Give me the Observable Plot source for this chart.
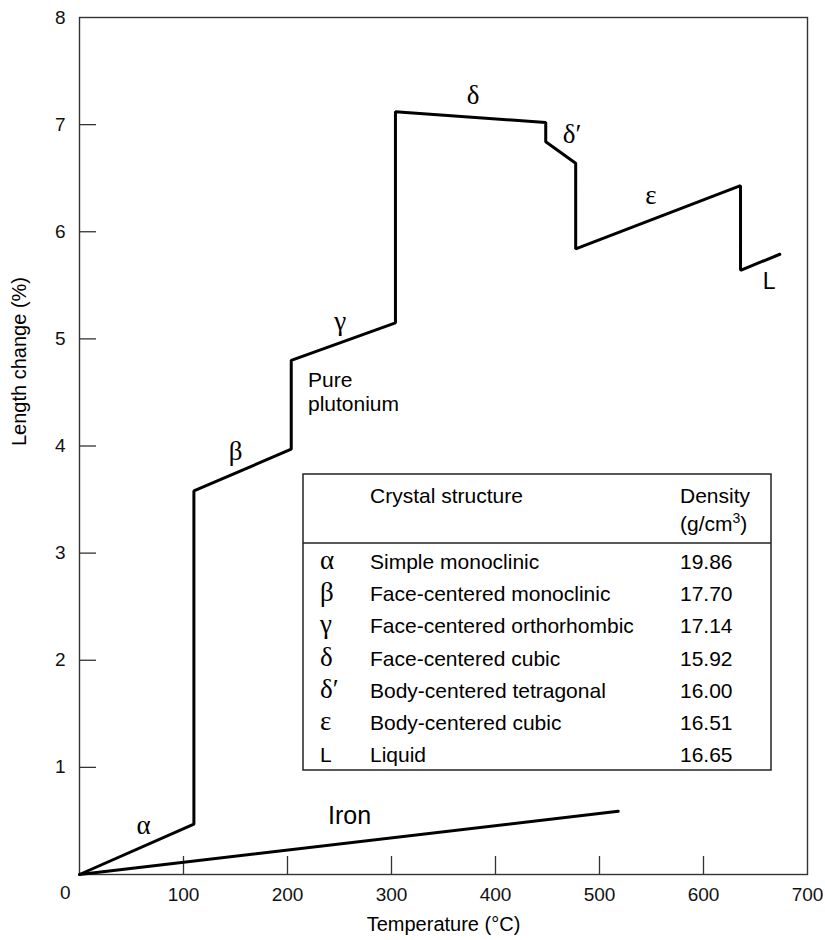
<!DOCTYPE html>
<html><head><meta charset="utf-8">
<script src="https://cdn.jsdelivr.net/npm/d3@7"></script>
<script src="https://cdn.jsdelivr.net/npm/@observablehq/plot@0.6"></script>
<style>
html,body{margin:0;padding:0;background:#fff;}
</style></head><body>
<div id="chart"></div>
<script>
// ---- data ----
const plutoniumT = [0, 110, 110, 203.6, 203.6, 303.8, 303.8, 448.3, 448.3, 477.1, 477.1, 635.6, 635.6, 673.4];
const plutoniumV = [0, 0.47, 3.58, 3.97, 4.80, 5.15, 7.12, 7.02, 6.84, 6.64, 5.84, 6.43, 5.64, 5.79];
const ironT = [0, 518];
const ironV = [0, 0.59];
const phaseLabels = ["α", "β", "γ", "δ", "δ′", "ε"];
const phaseLabelT = [61.5, 150, 250.7, 378.5, 473.6, 549.5];
const phaseLabelV = [0.46, 3.95, 5.16, 7.27, 6.91, 6.34];
const liquidLabel = "L";
const liquidLabelT = 663;
const liquidLabelV = 5.53;
const ironLabel = "Iron";
const ironLabelT = 239;
const ironLabelV = 0.55;
const pureLabel = "Pure\nplutonium";
const pureLabelT = 219.7;
const pureLabelV = 4.7;
const tableSymbols = ["α", "β", "γ", "δ", "δ′", "ε", "L"];
const tableStructures = ["Simple monoclinic", "Face-centered monoclinic", "Face-centered orthorhombic", "Face-centered cubic", "Body-centered tetragonal", "Body-centered cubic", "Liquid"];
const tableDensities = ["19.86", "17.70", "17.14", "15.92", "16.00", "16.51", "16.65"];
const xTickLabels = [100, 200, 300, 400, 500, 600, 700];
const xTickMarks = [100, 200, 300, 400, 500, 600];
const yTickLabels = [1, 2, 3, 4, 5, 6, 7, 8];
const yTickMarks = [1, 2, 3, 4, 5, 6, 7];
const xTitle = "Temperature (°C)";
const yTitle = "Length change (%)";

const pu = plutoniumT.map((t, i) => ({T: t, V: plutoniumV[i]}));
const fe = ironT.map((t, i) => ({T: t, V: ironV[i]}));
const labels = phaseLabels.map((s, i) => ({s, T: phaseLabelT[i], V: phaseLabelV[i]}));

const SANS = "'Liberation Sans', Arial, Helvetica, sans-serif";
const SERIF = "'Liberation Serif', 'Times New Roman', serif";

const plot = Plot.plot({
  width: 825,
  height: 940,
  marginTop: 17,
  marginRight: 18,
  marginBottom: 66,
  marginLeft: 79,
  style: {fontFamily: SANS, fontSize: "19px", color: "#111", background: "#fff"},
  x: {domain: [0, 700]},
  y: {domain: [0, 8]},
  marks: [
    Plot.frame({stroke: "#333", strokeWidth: 1.4}),
    Plot.axisX({ticks: xTickMarks, tickSize: -18, tickFormat: () => "", label: null, stroke: "#333", strokeWidth: 1.3}),
    Plot.axisX({ticks: xTickLabels, tickSize: 0, tickPadding: 13, label: null, fontSize: 19}),
    Plot.axisY({ticks: yTickMarks, tickSize: -17, tickFormat: () => "", label: null, stroke: "#333", strokeWidth: 1.3}),
    Plot.axisY({ticks: yTickLabels, tickSize: 0, tickPadding: 14, label: null, fontSize: 19}),
    Plot.text(["0"], {x: () => 0, y: () => 0, text: d => d, dx: -9, dy: 18, textAnchor: "end", fontSize: 19}),
    Plot.line(pu, {x: "T", y: "V", stroke: "#000", strokeWidth: 3, strokeLinejoin: "miter"}),
    Plot.line(fe, {x: "T", y: "V", stroke: "#000", strokeWidth: 3}),
    Plot.text(labels, {x: "T", y: "V", text: "s", fontFamily: SERIF, fontSize: 27, fill: "#000"}),
    Plot.text([liquidLabel], {x: () => liquidLabelT, y: () => liquidLabelV, text: d => d, fontSize: 23, fill: "#000"}),
    Plot.text([ironLabel], {x: () => ironLabelT, y: () => ironLabelV, text: d => d, fontSize: 25, textAnchor: "start", fill: "#000"}),
    Plot.text([pureLabel], {x: () => pureLabelT, y: () => pureLabelV, text: d => d, fontSize: 21, textAnchor: "start", lineAnchor: "top", lineHeight: 1.1, fill: "#000"}),
    Plot.text([xTitle], {frameAnchor: "bottom", dy: 56, fontSize: 20, fill: "#000"}),
    Plot.text([yTitle], {frameAnchor: "left", rotate: -90, dx: -60, fontSize: 20, fill: "#000"})
  ]
});

document.getElementById("chart").appendChild(plot);

// ---- table (legend-like annotation) ----
const svg = d3.select(plot);
const g = svg.append("g").attr("font-family", SANS).attr("font-size", 21).attr("fill", "#000").attr("text-anchor", "start");
const bx = 303, by = 474, bw = 468, bh = 296;
g.append("rect").attr("x", bx).attr("y", by).attr("width", bw).attr("height", bh)
  .attr("fill", "#fff").attr("stroke", "#222").attr("stroke-width", 1.5);
g.append("line").attr("x1", bx).attr("x2", bx + bw).attr("y1", 543).attr("y2", 543)
  .attr("stroke", "#222").attr("stroke-width", 1.5);
const colSym = 320, colStruct = 370, colDens = 680;
g.append("text").attr("x", colStruct).attr("y", 503).text("Crystal structure");
g.append("text").attr("x", colDens).attr("y", 503).text("Density");
const t2 = g.append("text").attr("x", colDens).attr("y", 531);
t2.append("tspan").text("(g/cm");
t2.append("tspan").attr("font-size", 14).attr("dy", -8).text("3");
t2.append("tspan").attr("dy", 8).text(")");
tableSymbols.forEach((s, i) => {
  const y = 569 + 32.2 * i;
  g.append("text").attr("x", colSym).attr("y", y)
    .attr("font-family", s === "L" ? SANS : SERIF).attr("font-size", s === "L" ? 21 : 27).text(s);
  g.append("text").attr("x", colStruct).attr("y", y).text(tableStructures[i]);
  g.append("text").attr("x", colDens).attr("y", y).text(tableDensities[i]);
});
</script>
</body></html>
